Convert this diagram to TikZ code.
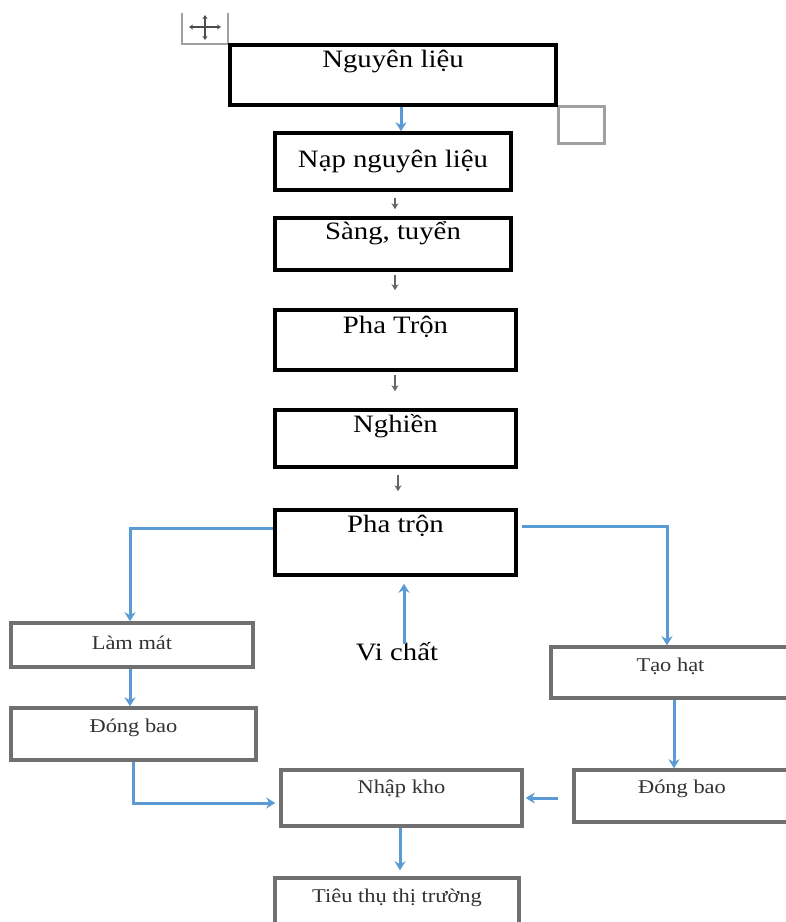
\documentclass[tikz,border=0pt]{standalone}
\usepackage{fontspec}
\setmainfont{Liberation Serif}[FakeStretch=1.15]
\usetikzlibrary{arrows.meta}
\definecolor{flowblue}{HTML}{5B9BD5}
\definecolor{boxgray}{HTML}{707070}
\definecolor{handlegray}{HTML}{A0A0A0}

\begin{document}
\begin{tikzpicture}[x=1pt,y=-1pt,
  bigbox/.style={draw=black, line width=3.5pt, inner sep=0pt},
  smallbox/.style={draw=boxgray, line width=3.5pt, inner sep=0pt},
  bigtext/.style={font=\fontsize{25}{29}\selectfont, inner sep=0pt},
  smalltext/.style={font=\fontsize{19.5}{23}\selectfont, text=black!80, inner sep=0pt},
  blueflow/.style={draw=flowblue, line width=3pt, -{Stealth[length=9pt,width=11pt]}},
  thinflow/.style={draw=black!60, line width=1.3pt, -{Stealth[length=6pt,width=7pt]}},
]
\useasboundingbox (0,0) rectangle (786,922);
\clip (0,0) rectangle (786,922);
\fill[white] (0,0) rectangle (786,922);

% table handles
\draw[handlegray, line width=2.5pt] (182,13) -- (182,44) -- (228,44) -- (228,13);
\draw[black!70, line width=2pt, {Stealth[length=4pt,width=5pt]}-{Stealth[length=4pt,width=5pt]}] (189,27) -- (221,27);
\draw[black!70, line width=2pt, {Stealth[length=4pt,width=5pt]}-{Stealth[length=4pt,width=5pt]}] (205,15) -- (205,40);
\node[draw=handlegray, line width=3pt, minimum width=46pt, minimum height=37pt, inner sep=0pt] (resize) at (581,124.5) {};

% main column
\node[bigbox, minimum width=326pt, minimum height=60pt] (b1) at (393,75) {};
\node[bigtext] (t1) at ([yshift=-18pt]b1.north) {Nguyên liệu};
\node[bigbox, minimum width=236pt, minimum height=57pt] (b2) at (393,161.5) {};
\node[bigtext] (t2) at ([yshift=-30pt]b2.north) {Nạp nguyên liệu};
\node[bigbox, minimum width=236pt, minimum height=52pt] (b3) at (393,244) {};
\node[bigtext] (t3) at ([yshift=-17pt]b3.north) {Sàng, tuyển};
\node[bigbox, minimum width=241pt, minimum height=60pt] (b4) at (395.5,340) {};
\node[bigtext] (t4) at ([yshift=-19pt]b4.north) {Pha Trộn};
\node[bigbox, minimum width=241pt, minimum height=57pt] (b5) at (395.5,438.5) {};
\node[bigtext] (t5) at ([yshift=-18pt]b5.north) {Nghiền};
\node[bigbox, minimum width=241pt, minimum height=65pt] (b6) at (395.5,542.5) {};
\node[bigtext] (t6) at ([yshift=-18pt]b6.north) {Pha trộn};
\node[bigtext] (vi) at (397,652) {Vi chất};

% branches
\node[smallbox, minimum width=242pt, minimum height=44pt] (lm) at (132,645) {};
\node[smalltext] (tlm) at ([yshift=-22pt]lm.north) {Làm mát};
\node[smallbox, minimum width=245pt, minimum height=52pt] (dbL) at (133.5,734) {};
\node[smalltext] (tdbL) at ([yshift=-22pt]dbL.north) {Đóng bao};
\node[smallbox, minimum width=239pt, minimum height=51pt] (tao) at (670.5,672.5) {};
\node[smalltext] (ttao) at ([yshift=-21pt]tao.north) {Tạo hạt};
\node[smallbox, minimum width=216pt, minimum height=52pt] (dbR) at (682,796) {};
\node[smalltext] (tdbR) at ([yshift=-21pt]dbR.north) {Đóng bao};
\node[smallbox, minimum width=241pt, minimum height=56pt] (nk) at (401.5,798) {};
\node[smalltext] (tnk) at ([yshift=-21pt]nk.north) {Nhập kho};
\node[smallbox, minimum width=244pt, minimum height=82pt] (tt) at (397,919) {};
\node[smalltext] (ttt) at ([yshift=-22pt]tt.north) {Tiêu thụ thị trường};

% connectors
\draw[blueflow] ([xshift=8pt]b1.south) -- ([xshift=8pt]b1.south |- b2.north);
\draw[thinflow, shorten <=6pt, shorten >=7pt] ([xshift=2pt]b2.south) -- ([xshift=2pt]b2.south |- b3.north);
\draw[thinflow, shorten <=3pt, shorten >=18pt] ([xshift=2pt]b3.south) -- ([xshift=2pt]b3.south |- b4.north);
\draw[thinflow, shorten <=3pt, shorten >=17pt] ([xshift=-0.5pt]b4.south) -- ([xshift=-0.5pt]b4.south |- b5.north);
\draw[thinflow, shorten <=6pt, shorten >=17pt] ([xshift=2.5pt]b5.south) -- ([xshift=2.5pt]b5.south |- b6.north);

\draw[blueflow] ([yshift=14.5pt]b6.west) -| ([xshift=-2pt]lm.north);
\draw[blueflow] ([yshift=16.5pt,xshift=4pt]b6.east) -| ([xshift=-3.5pt]tao.north);
\draw[blueflow, shorten >=7pt] ([xshift=7pt,yshift=-1pt]vi.north) -- ([xshift=7pt]vi.north |- b6.south);
\draw[blueflow] ([xshift=-2pt]lm.south) -- ([xshift=-2pt]lm.south |- dbL.north);
\draw[blueflow] (dbL.south) |- ([yshift=-5pt,xshift=-4pt]nk.west);
\draw[blueflow] ([xshift=3.5pt]tao.south) -- ([xshift=3.5pt]tao.south |- dbR.north);
\draw[blueflow] ([xshift=-14pt]dbR.west |- nk.east) -- ([xshift=2pt]nk.east);
\draw[blueflow, shorten >=6pt] ([xshift=-1.5pt]nk.south) -- ([xshift=-1.5pt]nk.south |- tt.north);
\end{tikzpicture}
\end{document}
